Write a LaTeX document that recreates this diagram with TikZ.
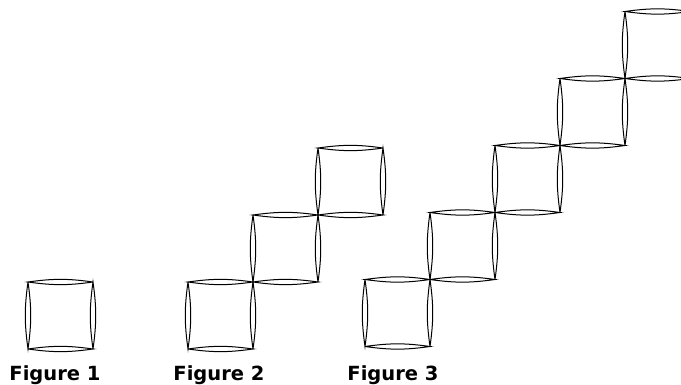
\documentclass[tikz,border=0pt]{standalone}
\usepackage{fontspec}
\setmainfont{DejaVu Sans}
\usepackage{xcolor}

\newcommand{\stick}[2]{\draw[line width=1pt] (#1) to[bend left=8] (#2) to[bend left=8] (#1);}
\newcommand{\sqbox}[2]{%
	\coordinate (bl) at (#1,#2);
	\coordinate (br) at (#1+65,#2);
	\coordinate (tr) at (#1+65,#2+67);
	\coordinate (tl) at (#1,#2+67);
	\stick{bl}{br}\stick{br}{tr}\stick{tr}{tl}\stick{tl}{bl}}

\begin{document}
\begin{tikzpicture}[x=1pt,y=1pt]
	\useasboundingbox (0,0) rectangle (681,385);
	\clip (0,0) rectangle (681,385);
	
	% Figure 1
	\sqbox{28}{36}
	
	% Figure 2
	\sqbox{188}{36}
	\sqbox{253}{103}
	\sqbox{318}{170}
	
	% Figure 3
	\sqbox{365}{38.5}
	\sqbox{430}{105.5}
	\sqbox{495}{172.5}
	\sqbox{560}{239.5}
	\coordinate (bl) at (625,306.5);
	\coordinate (br) at (690,306.5);
	\coordinate (tr) at (690,373.5);
	\coordinate (tl) at (625,373.5);
	\stick{bl}{br}\stick{tr}{tl}\stick{tl}{bl}
	
	\node[anchor=base,font=\bfseries\fontsize{19.5}{20}\selectfont] (fig1) at (55,4) {Figure 1};
	\node[anchor=base,font=\bfseries\fontsize{19.5}{20}\selectfont] (fig2) at (219,4) {Figure 2};
	\node[anchor=base,font=\bfseries\fontsize{19.5}{20}\selectfont] (fig3) at (393,4) {Figure 3};
\end{tikzpicture}
\end{document}
